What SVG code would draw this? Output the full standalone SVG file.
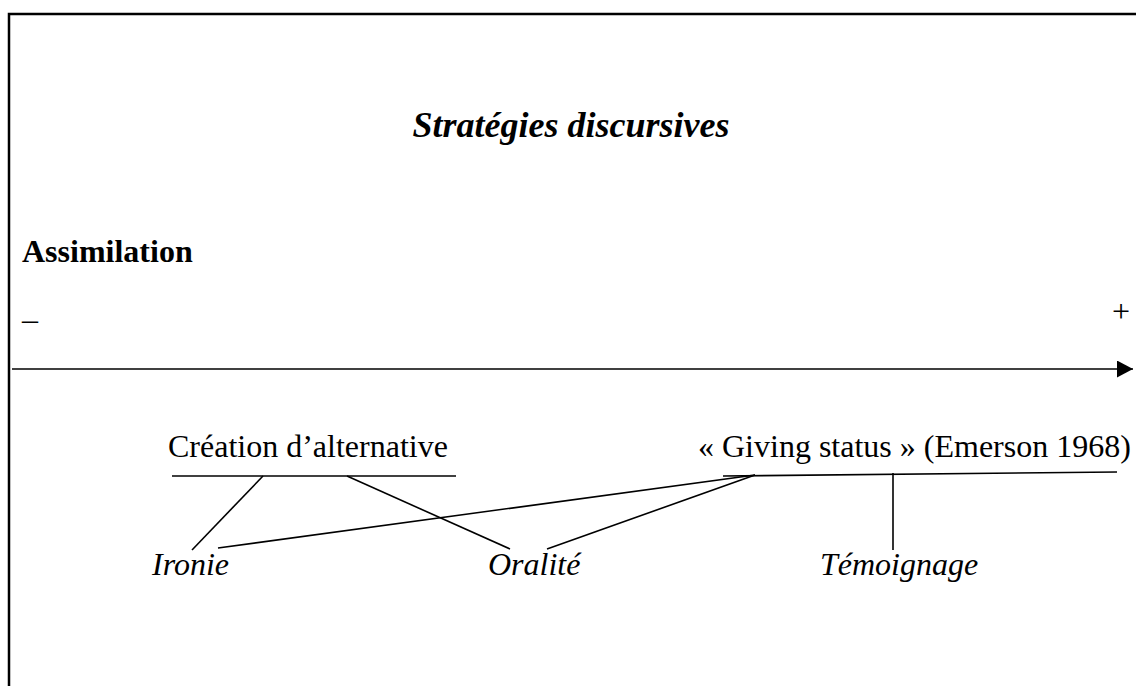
<svg xmlns="http://www.w3.org/2000/svg" width="1136" height="686" viewBox="0 0 1136 686">
  <style>
    .t { font-family: "Liberation Serif", "Times New Roman", serif; font-size: 32px; fill: #000; }
    .it { font-style: italic; }
    .b { font-weight: bold; }
    .ln { stroke: #000; stroke-width: 1.6; fill: none; }
    .frame { stroke: #000; stroke-width: 2.5; fill: none; }
  </style>
  <defs>
    <marker id="arrow" markerWidth="16" markerHeight="17" refX="16" refY="8.5" orient="auto" markerUnits="userSpaceOnUse">
      <path d="M0,0 L16,8.5 L0,17 Z" fill="#000"/>
    </marker>
  </defs>
  <rect width="1136" height="686" fill="#fff"/>

  <!-- open frame: top and left edges -->
  <path class="frame" d="M9,686 L9,14 L1136,14"/>

  <g id="title">
    <text class="t it b" x="571" y="137" font-size="36" text-anchor="middle" style="font-size:36px">Stratégies discursives</text>
  </g>

  <g id="axis">
    <text class="t b" x="22" y="262">Assimilation</text>
    <text class="t" x="22" y="330">–</text>
    <text class="t" x="1112" y="322">+</text>
    <line class="ln" x1="12" y1="369" x2="1133" y2="369" stroke-width="2" marker-end="url(#arrow)"/>
  </g>

  <g id="creation">
    <text class="t" x="168" y="457">Création d’alternative</text>
  </g>
  <g id="giving-status">
    <text class="t" x="698" y="457">« Giving status » (Emerson 1968)</text>
  </g>
  <g id="ironie">
    <text class="t it" x="152" y="575">Ironie</text>
  </g>
  <g id="oralite">
    <text class="t it" x="488" y="575">Oralité</text>
  </g>
  <g id="temoignage">
    <text class="t it" x="820" y="575">Témoignage</text>
  </g>

  <g id="connectors">
    <line class="ln" x1="172" y1="476" x2="456" y2="476"/>
    <line class="ln" x1="723" y1="476" x2="1117" y2="472"/>
    <line class="ln" x1="263" y1="476" x2="192" y2="550"/>
    <line class="ln" x1="347" y1="476" x2="510" y2="549"/>
    <line class="ln" x1="218" y1="548" x2="755" y2="475"/>
    <line class="ln" x1="547" y1="549" x2="755" y2="475"/>
    <line class="ln" x1="893" y1="473" x2="893" y2="550"/>
  </g>
</svg>
